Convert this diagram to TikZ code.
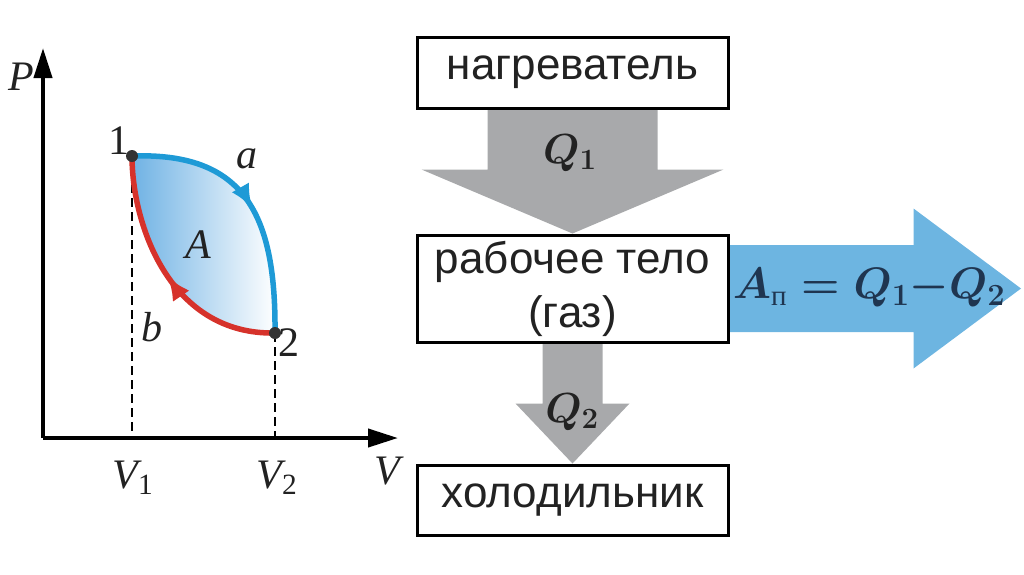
\documentclass[tikz,border=0pt]{standalone}
\usepackage{fix-cm}
\usepackage{fontspec}
\setmainfont{Liberation Serif}
\setsansfont{Liberation Sans}
\usetikzlibrary{arrows.meta,calc,decorations.markings,backgrounds}

\definecolor{curveblue}{HTML}{1E9AD6}
\definecolor{curvered}{HTML}{D6322B}
\definecolor{fillblue}{HTML}{6FB2E4}
\definecolor{flowblue}{HTML}{6DB5E1}
\definecolor{flowgray}{HTML}{A8A9AB}
\definecolor{labelnavy}{HTML}{1F3550}
\definecolor{textgray}{HTML}{222222}

\tikzset{
  lbl/.style={text=textgray,inner sep=0pt,font=\fontsize{42}{44}\selectfont\itshape},
  num/.style={text=textgray,inner sep=0pt,font=\fontsize{42}{44}\selectfont},
  dot/.style={circle,fill=black!80,inner sep=0pt,minimum size=12pt},
  axis/.style={line width=4pt,-{Triangle[length=30pt,width=18pt]}},
  guide/.style={line width=1.4pt,dash pattern=on 9pt off 5pt},
  pathway/.style={line width=5.5pt,postaction={decorate},
    decoration={markings,mark=at position #1 with {\arrow{Latex[length=24pt,width=20pt]}}}},
  stage/.style={draw=black,line width=3pt,fill=white,minimum width=311pt,inner sep=0pt,
    align=center,text=textgray,font=\sffamily\fontsize{44}{54}\selectfont},
  qlbl/.style={text=textgray,inner sep=0pt,font=\fontsize{42}{46}\selectfont\boldmath}
}

\begin{document}
\begin{tikzpicture}[x=1pt,y=-1pt]
\useasboundingbox (0,0) rectangle (1024,574);

\coordinate (O) at (43,438);
\coordinate (ytip) at (43,48);
\coordinate (xtip) at (398,438);
\coordinate (p1) at (132,156);
\coordinate (p2) at (275,333);

\shade[left color=fillblue,right color=white] (p1) .. controls (245,152) and (276,215) .. (p2)
  .. controls (170,335) and (132,225) .. (p1);
\draw[guide] (p1) -- (p1 |- O);
\draw[guide] (p2) -- (p2 |- O);
\draw[axis] (O) -- (ytip);
\draw[axis] (O) -- (xtip);
\draw[pathway=0.52,curveblue] (p1) .. controls (245,152) and (276,215) .. (p2);
\draw[pathway=0.5,curvered] (p2) .. controls (170,335) and (132,225) .. (p1);
\node[dot] (d1) at (p1) {};
\node[dot] (d2) at (p2) {};

\node[lbl] (pl) at (21,77) {P};
\node[num] (n1) at (119,141) {1};
\node[lbl] (al) at (247,159) {a};
\node[lbl] (Al) at (198,245) {A};
\node[lbl] (bl) at (152,327) {b};
\node[num] (n2) at (289,343) {2};
\node[lbl,anchor=base] (v1) at (133,488) {V\textsubscript{\upshape 1}};
\node[lbl,anchor=base] (v2) at (277,488) {V\textsubscript{\upshape 2}};
\node[lbl] (vl) at (387,471) {V};

\node[stage,minimum height=71pt] (heat) at (572.5,72.5) {нагреватель};
\node[stage,minimum height=107pt] (body) at (572.5,288.5) {рабочее тело\\(газ)};
\node[stage,minimum height=70pt] (cold) at (572.5,500) {холодильник};
\coordinate (out) at (1021,288.5);

\begin{scope}[on background layer]
\fill[flowgray] ($(heat.south)+(-85,0)$) -- ++(0,60) -- ++(-66,0) -- (body.north)
  -- ($(heat.south)+(151,60)$) -- ++(-66,0) -- ($(heat.south)+(85,0)$) -- cycle;
\fill[flowgray] ($(body.south)+(-30,0)$) -- ++(0,60) -- ++(-27,0) -- (cold.north)
  -- ($(body.south)+(57,60)$) -- ++(-27,0) -- ($(body.south)+(30,0)$) -- cycle;
\fill[flowblue] ($(body.east)+(0,-43.5)$) -- ++(184,0) -- ++(0,-36.5) -- (out)
  -- ($(body.east)+(184,80)$) -- ++(0,-36.5) -- ($(body.east)+(0,43.5)$) -- cycle;
\end{scope}

\node[qlbl] (q1) at (570,153) {$Q_1$};
\node[qlbl] (q2) at (572,412) {$Q_2$};
\node[qlbl,text=labelnavy,font=\fontsize{44}{48}\selectfont\boldmath] (work) at (869,288)
  {$A_{\mbox{\fontsize{29}{29}\selectfont п}} = Q_1{-}Q_2$};
\end{tikzpicture}
\end{document}
